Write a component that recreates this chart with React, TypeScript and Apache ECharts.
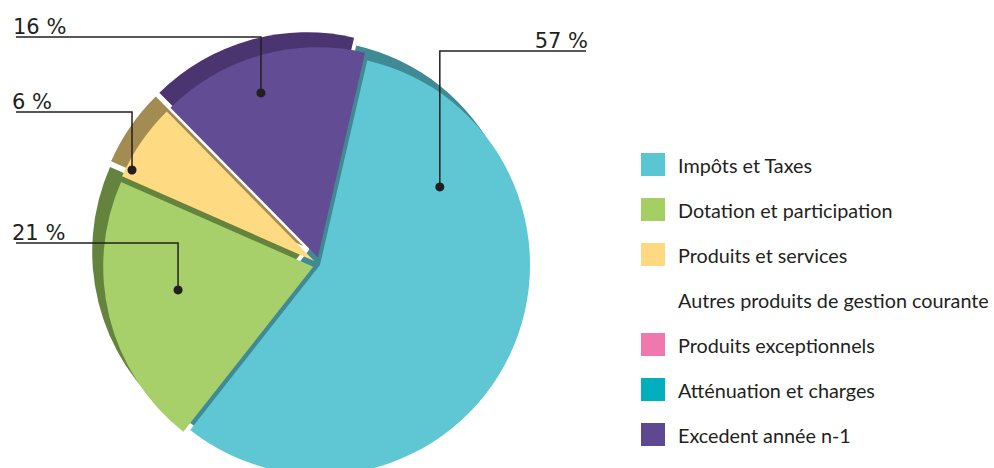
import React, { useEffect, useRef } from "react";
import * as echarts from "echarts";

// ---- data ----
const categories = [
  "Impôts et Taxes",
  "Dotation et participation",
  "Produits et services",
  "Autres produits de gestion courante",
  "Produits exceptionnels",
  "Atténuation et charges",
  "Excedent année n-1",
];
const values = [57, 21, 6, 0, 0, 0, 16];

// ---- styles ----
const frontColors = ["#5FC7D4", "#A7CF6A", "#FEDB82", "#FFFFFF", "#F178AE", "#00AEBD", "#624C94"];
const backColors = ["#3F8A94", "#64843E", "#A38C52", "#FFFFFF", "#F178AE", "#00AEBD", "#4A3571"];
const legendColors = ["#5BC6D3", "#A5CF62", "#FED981", "#FFFFFF", "#F178AE", "#00AEBD", "#5F4892"];
const explode = [0, 7, 7, 0, 0, 0, 8];

const CENTER = [320, 265];
const R = 210;
const BACK_SHIFT = [-11, -15];
const START_NORTH = 13; // degrees clockwise from 12 o'clock
const TEXT_COLOR = "#231F20";

// label anchors inside slices (fraction of slice span, fraction of radius) and placement
const anchors: Record<number, { f: number; rf: number; lineY: number; endX: number; textX: number; side: "left" | "right" }> = {
  0: { f: 0.214, rf: 0.681, lineY: 51, endX: 586, textX: 588, side: "right" },
  1: { f: 0.556, rf: 0.653, lineY: 243, endX: 16, textX: 12, side: "left" },
  2: { f: 0.127, rf: 0.97, lineY: 112, endX: 16, textX: 12, side: "left" },
  6: { f: 0.443, rf: 0.828, lineY: 37, endX: 16, textX: 13, side: "left" },
};

export default function App() {
  const ref = useRef<HTMLDivElement>(null);
  useEffect(() => {
    if (!ref.current) return;
    const chart = echarts.init(ref.current, undefined, { renderer: "svg" });
    const total = values.reduce((a, b) => a + b, 0);
    const groups = Array.from(new Set(explode));

    const makeSeries = (layer: "back" | "front") =>
      groups.map((g) => ({
        type: "pie",
        name: layer + g,
        center: layer === "back" ? [CENTER[0] + BACK_SHIFT[0], CENTER[1] + BACK_SHIFT[1]] : CENTER,
        radius: [0, R],
        startAngle: 90 - START_NORTH,
        clockwise: true,
        selectedMode: "multiple",
        selectedOffset: g,
        silent: true,
        label: { show: false },
        labelLine: { show: false },
        emphasis: { disabled: true },
        select: { itemStyle: { borderWidth: 0 } },
        minAngle: 0,
        avoidLabelOverlap: false,
        data: categories.map((name, i) => {
          const inGroup = explode[i] === g && values[i] > 0;
          return {
            name,
            value: values[i],
            selected: inGroup && g > 0,
            itemStyle: {
              color: inGroup ? (layer === "back" ? backColors[i] : frontColors[i]) : "rgba(0,0,0,0)",
              borderWidth: 0,
            },
          };
        }),
      }));

    // annotations derived from data
    const graphics: any[] = [];
    let cum = 0;
    values.forEach((v, i) => {
      const start = START_NORTH + (360 * cum) / total;
      const span = (360 * v) / total;
      cum += v;
      const a = anchors[i];
      if (!a) return;
      const bis = ((start + span / 2) * Math.PI) / 180;
      const ec = [CENTER[0] + explode[i] * Math.sin(bis), CENTER[1] - explode[i] * Math.cos(bis)];
      const th = ((start + a.f * span) * Math.PI) / 180;
      const dx = ec[0] + a.rf * R * Math.sin(th);
      const dy = ec[1] - a.rf * R * Math.cos(th);
      graphics.push({
        type: "polyline",
        z: 10,
        shape: { points: [[dx, dy], [dx, a.lineY], [a.endX, a.lineY]] },
        style: { stroke: TEXT_COLOR, lineWidth: 1.5, fill: null },
        silent: true,
      });
      graphics.push({
        type: "circle",
        z: 11,
        shape: { cx: dx, cy: dy, r: 4.5 },
        style: { fill: TEXT_COLOR },
        silent: true,
      });
      graphics.push({
        type: "text",
        z: 11,
        x: a.textX,
        y: a.lineY,
        style: {
          text: `${v} %`,
          font: "21px 'DejaVu Sans'",
          fill: TEXT_COLOR,
          align: a.side,
          verticalAlign: "bottom",
          textAlign: a.side,
          textVerticalAlign: "bottom",
        },
        silent: true,
      });
    });

    chart.setOption({
      animation: false,
      backgroundColor: "#ffffff",
      legend: {
        orient: "vertical",
        left: 641,
        top: 153,
        padding: 0,
        itemWidth: 24,
        itemHeight: 23,
        itemGap: 22,
        icon: "rect",
        selectedMode: false,
        textStyle: { fontFamily: "Lato", fontSize: 19.8, color: TEXT_COLOR, padding: [0, 0, 0, 8] },
        data: categories.map((name, i) => ({ name, itemStyle: { color: legendColors[i], borderWidth: 0 } })),
      },
      series: [...makeSeries("back"), ...makeSeries("front")],
      graphic: graphics,
    });
    return () => chart.dispose();
  }, []);
  return <div ref={ref} style={{ position: "fixed", left: 0, top: 0, width: 994, height: 468 }} />;
}
